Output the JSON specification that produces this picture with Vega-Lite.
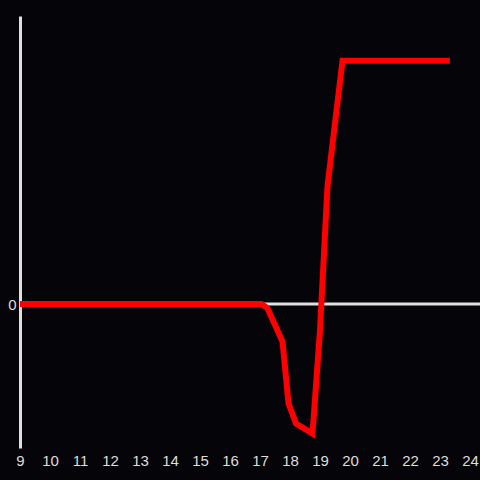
{
  "$schema": "https://vega.github.io/schema/vega-lite/v6.json",
  "width": 460,
  "height": 432,
  "autosize": {"type": "none"},
  "padding": {"left": 20, "top": 16, "right": 0, "bottom": 32},
  "background": "#050408",
  "config": {"view": {"stroke": null}},
  "layer": [
    {
      "data": {"values": [{"y": 0}]},
      "mark": {"type": "rule", "color": "#e0e0e0", "strokeWidth": 3},
      "encoding": {
        "y": {"field": "y", "type": "quantitative", "scale": {"domain": [-1, 2], "nice": false},
          "axis": {"values": [0], "domain": true, "domainColor": "#e0e0e0", "domainWidth": 3, "ticks": false, "grid": false, "labelColor": "#dddddd", "labelFontSize": 15, "labelFont": "Liberation Sans", "labelPadding": 4, "title": null}}
      }
    },
    {
      "data": {"values": [
        {"t": 9, "v": 0},
        {"t": 17.05, "v": 0},
        {"t": 17.25, "v": -0.03},
        {"t": 17.75, "v": -0.26},
        {"t": 17.95, "v": -0.69},
        {"t": 18.2, "v": -0.83},
        {"t": 18.75, "v": -0.9},
        {"t": 19.0, "v": -0.18},
        {"t": 19.25, "v": 0.82},
        {"t": 19.75, "v": 1.69},
        {"t": 23.33, "v": 1.69}
      ]},
      "mark": {"type": "line", "color": "#ff0000", "strokeWidth": 6, "strokeCap": "butt", "strokeJoin": "miter"},
      "encoding": {
        "x": {"field": "t", "type": "quantitative", "scale": {"domain": [9, 24.3333], "nice": false, "zero": false},
          "axis": {"values": [9,10,11,12,13,14,15,16,17,18,19,20,21,22,23,24], "domain": false, "ticks": false, "grid": false, "labelColor": "#dddddd", "labelFontSize": 15, "labelFont": "Liberation Sans", "labelPadding": 5, "labelFlush": false, "title": null, "labelAngle": 0}},
        "y": {"field": "v", "type": "quantitative", "scale": {"domain": [-1, 2], "nice": false},
          "axis": {"values": [0], "domain": true, "domainColor": "#e0e0e0", "domainWidth": 3, "ticks": false, "grid": false, "labelColor": "#dddddd", "labelFontSize": 15, "labelFont": "Liberation Sans", "labelPadding": 4, "title": null}}
      }
    }
  ]
}
